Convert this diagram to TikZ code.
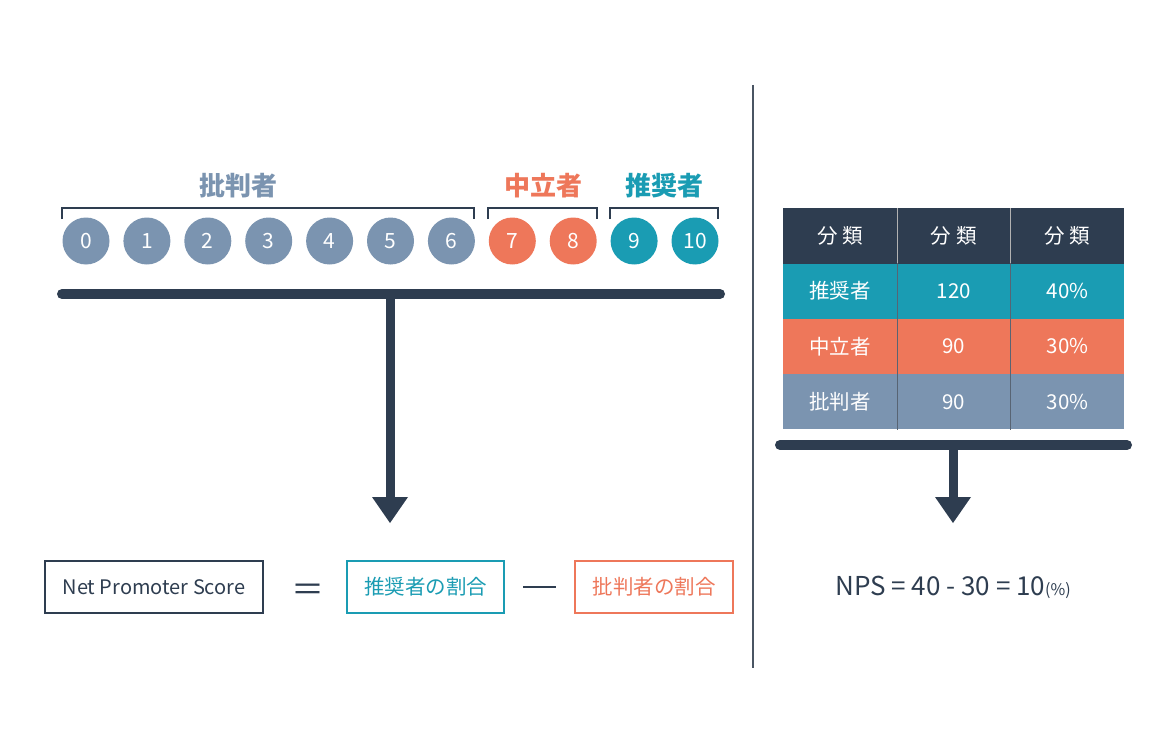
\documentclass[tikz,border=0pt]{standalone}
\usepackage{fontspec}
\setmainfont{Noto Sans CJK JP}
\usetikzlibrary{arrows.meta}
\definecolor{navy}{HTML}{2E3D50}
\definecolor{grayblue}{HTML}{7B94B0}
\definecolor{orng}{HTML}{EE775A}
\definecolor{teal}{HTML}{1A9CB3}
\definecolor{divider}{HTML}{4A5563}
\begin{document}
\begin{tikzpicture}[x=1pt,y=-1pt,
  score/.style={circle,minimum size=47pt,inner sep=0pt,text=white,font=\fontsize{21}{21}\selectfont},
  grp/.style={font=\fontsize{26}{26}\selectfont\bfseries},
  brk/.style={line width=2.5pt,navy},
  bar/.style={line width=10pt,line cap=round,navy},
  stem/.style={line width=9pt,navy,-{Triangle[length=26pt,width=36pt,line width=0pt]}},
  fbox/.style={draw,line width=2pt,minimum height=52pt,inner sep=0pt},
  cell/.style={minimum width=113.7pt,minimum height=55.3pt,inner sep=0pt,text=white,font=\fontsize{20.5}{20.5}\selectfont,anchor=north west}
]
\useasboundingbox (0,0) rectangle (1160,749);
\fill[white] (0,0) rectangle (1160,749);

% group labels
\node[grp,text=grayblue] (lcrit) at (238,186) {批判者};
\node[grp,text=orng] (lneut) at (543,186) {中立者};
\node[grp,text=teal] (lprom) at (664,186) {推奨者};

% brackets
\draw[brk] (62,219) -- (62,208) -- (474,208) -- (474,219);
\draw[brk] (488,219) -- (488,208) -- (597,208) -- (597,219);
\draw[brk] (610,219) -- (610,208) -- (718,208) -- (718,219);

% score circles
\foreach \i in {0,...,6} {
  \node[score,fill=grayblue] (s\i) at ({86+60.9*\i},241) {\i};
}
\node[score,fill=orng] (s7) at ({86+60.9*7},241) {7};
\node[score,fill=orng] (s8) at ({86+60.9*8},241) {8};
\node[score,fill=teal] (s9) at ({86+60.9*9},241) {9};
\node[score,fill=teal] (s10) at ({86+60.9*10},241) {10};

% left bar and arrow
\coordinate (barL1) at (62,294);
\coordinate (barR1) at (720,294);
\draw[bar] (barL1) -- (barR1);
\coordinate (stem1top) at (390,294);
\coordinate (stem1end) at (390,523);
\draw[stem] (stem1top) -- (stem1end);

% formula
\node[fbox,draw=navy,text=navy,minimum width=218pt,font=\fontsize{20}{20}\selectfont] (nps) at (154,587) {Net Promoter Score};
\node[text=navy,font=\fontsize{33}{33}\selectfont,inner sep=0pt] (eq) at (308,593) {＝};
\node[fbox,draw=teal,text=teal,minimum width=157pt,font=\fontsize{20.5}{20.5}\selectfont] (prom) at (425.5,587) {推奨者の割合};
\draw[navy,line width=2pt] (523,587) coordinate (m1) -- (556,587) coordinate (m2);
\node[fbox,draw=orng,text=orng,minimum width=158pt,font=\fontsize{20.5}{20.5}\selectfont] (crit) at (654,587) {批判者の割合};

% divider
\coordinate (divtop) at (753,85);
\coordinate (divbot) at (753,668);
\draw[divider,line width=2pt] (divtop) -- (divbot);

% table
\node[cell,fill=navy] (h1) at (783,208) {分 類};
\node[cell,fill=navy] (h2) at (896.7,208) {分 類};
\node[cell,fill=navy] (h3) at (1010.4,208) {分 類};
\node[cell,fill=teal] (a1) at (783,263.3) {推奨者};
\node[cell,fill=teal] (a2) at (896.7,263.3) {120};
\node[cell,fill=teal] (a3) at (1010.4,263.3) {40\%};
\node[cell,fill=orng] (b1) at (783,318.6) {中立者};
\node[cell,fill=orng] (b2) at (896.7,318.6) {90};
\node[cell,fill=orng] (b3) at (1010.4,318.6) {30\%};
\node[cell,fill=grayblue] (c1) at (783,373.9) {批判者};
\node[cell,fill=grayblue] (c2) at (896.7,373.9) {90};
\node[cell,fill=grayblue] (c3) at (1010.4,373.9) {30\%};
\draw[gray!60,line width=1pt] (h1.north east) -- (h1.south east);
\draw[gray!60,line width=1pt] (h2.north east) -- (h2.south east);
\draw[navy!80,line width=1pt] (a1.north east) -- (c1.south east);
\draw[navy!80,line width=1pt] (a2.north east) -- (c2.south east);

% right bar and arrow
\coordinate (barL2) at (780,445);
\coordinate (barR2) at (1127,445);
\draw[bar] (barL2) -- (barR2);
\coordinate (stem2top) at (953,445);
\coordinate (stem2end) at (953,523);
\draw[stem] (stem2top) -- (stem2end);

% NPS result
\node[text=navy,font=\fontsize{26}{26}\selectfont] (result) at (953,587) {NPS = 40 - 30 = 10{\fontsize{16}{16}\selectfont(\%)}};
\end{tikzpicture}
\end{document}
